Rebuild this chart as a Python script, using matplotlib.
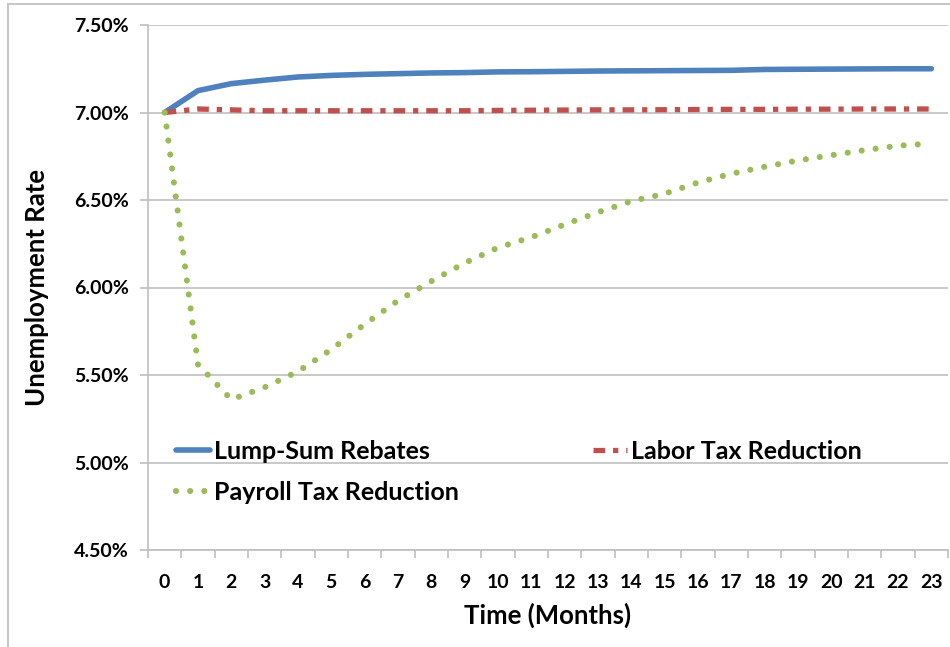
import matplotlib.pyplot as plt
from matplotlib.patches import Rectangle
from matplotlib.ticker import FuncFormatter, FixedLocator

months = list(range(24))
lump_sum = [7.00, 7.125, 7.165, 7.185, 7.203, 7.212, 7.218, 7.222, 7.226, 7.228,
            7.232, 7.233, 7.235, 7.237, 7.238, 7.239, 7.240, 7.241, 7.246, 7.247,
            7.248, 7.249, 7.250, 7.250]
labor_tax = [7.00, 7.02, 7.015, 7.01, 7.01, 7.01, 7.01, 7.01, 7.01, 7.01,
             7.012, 7.013, 7.014, 7.015, 7.015, 7.016, 7.017, 7.018, 7.018, 7.019,
             7.019, 7.02, 7.02, 7.02]
payroll_tax = [7.00, 5.56, 5.36, 5.43, 5.52, 5.646, 5.79, 5.925, 6.036, 6.14,
               6.228, 6.287, 6.36, 6.43, 6.493, 6.536, 6.60, 6.65, 6.69, 6.726,
               6.756, 6.785, 6.81, 6.823]
y_ticks = [4.5, 5.0, 5.5, 6.0, 6.5, 7.0, 7.5]

blue = '#4F81BD'
red = '#C0504D'
green = '#9BBB59'
axis_gray = '#BFBFBF'

plt.rcParams['font.family'] = ['Lato', 'DejaVu Sans']

fig = plt.figure(figsize=(9.5, 6.47), dpi=100)

# screenshot frame
fig.patches.append(Rectangle((8 / 950, -0.05), 1.2, 1 - 4 / 647 + 0.05,
                             transform=fig.transFigure, fill=False,
                             edgecolor='#C8C8C8', linewidth=1.5))

ax = fig.add_axes([148 / 950, 1 - 550 / 647, 800 / 950, 525 / 647])

ax.plot(months, lump_sum, color=blue, linewidth=4, solid_capstyle='round',
        label='Lump-Sum Rebates')
ax.plot(months, labor_tax, color=red, linewidth=3.8, dash_capstyle='butt',
        linestyle=(0, (2.2, 1.5, 1.0, 1.5)), label='Labor Tax Reduction')
ax.plot(months, payroll_tax, color=green, linewidth=4.4, dash_capstyle='round',
        linestyle=(0, (0.01, 2.3)), label='Payroll Tax Reduction')

ax.set_xlim(-0.5, 23.5)
ax.set_ylim(4.5, 7.5)
ax.set_xticks(months)
ax.xaxis.set_minor_locator(FixedLocator([m - 0.5 for m in range(25)]))
ax.tick_params(axis='x', which='major', length=0, pad=17)
ax.tick_params(axis='x', which='minor', length=6, color=axis_gray, width=1.2)
ax.set_yticks(y_ticks)
ax.yaxis.set_major_formatter(FuncFormatter(lambda v, p: '{:.2f}%'.format(v)))
ax.tick_params(axis='y', length=6, color=axis_gray, width=1.2, pad=8)
for lab in ax.get_xticklabels() + ax.get_yticklabels():
    lab.set_fontweight('bold')
    lab.set_fontsize(14)

ax.grid(axis='y', color=axis_gray, linewidth=1.2)
ax.set_axisbelow(True)
for side in ['top', 'right']:
    ax.spines[side].set_visible(False)
for side in ['left', 'bottom']:
    ax.spines[side].set_color(axis_gray)
    ax.spines[side].set_linewidth(1.2)

ax.set_xlabel('Time (Months)', fontsize=18.5, fontweight='bold', labelpad=9)
ax.set_ylabel('Unemployment Rate', fontsize=18.5, fontweight='bold', labelpad=18)

handles, labels = ax.get_legend_handles_labels()
order = [0, 2, 1]
ax.legend([handles[i] for i in order], [labels[i] for i in order], ncol=2,
          frameon=False, loc='upper left', bbox_to_anchor=(0.007, 0.252),
          prop={'size': 18, 'weight': 'bold'}, handlelength=1.35,
          handletextpad=0.15, columnspacing=5.4, labelspacing=0.72)

fig.savefig('out.png', dpi=100)
